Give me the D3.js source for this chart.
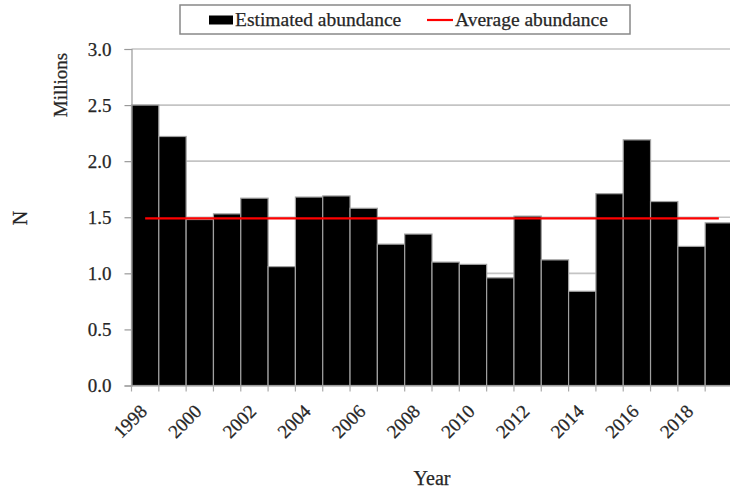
<!DOCTYPE html>
<html>
<head>
<meta charset="utf-8">
<script src="https://cdn.jsdelivr.net/npm/d3@7"></script>
<style>
  html, body { margin: 0; padding: 0; background: #fff; }
  svg { display: block; }
  svg text { font-family: 'Liberation Serif', Tinos, 'Times New Roman', 'DejaVu Serif', serif !important; fill: #262626; stroke: #262626; stroke-width: 0.25px; }
</style>
</head>
<body>
<svg id="chart" width="730" height="492"></svg>
<script>
const years = [1998,1999,2000,2001,2002,2003,2004,2005,2006,2007,2008,2009,2010,2011,2012,2013,2014,2015,2016,2017,2018,2019];
const abundance = [2.50,2.22,1.48,1.53,1.67,1.06,1.68,1.69,1.58,1.26,1.35,1.10,1.08,0.96,1.51,1.12,0.84,1.71,2.19,1.64,1.24,1.45];
const averageAbundance = 1.49;
const yTicks = [0,0.5,1.0,1.5,2.0,2.5,3.0];
const xLabelYears = [1998,2000,2002,2004,2006,2008,2010,2012,2014,2016,2018];
const legendLabels = ["Estimated abundance", "Average abundance"];

(function () {
const svg = d3.select("#chart");
const pLeft = 131.5, pRight = 732.5, pTop = 49, pBottom = 385.5;
const FONT = "'Liberation Serif', Tinos, 'Times New Roman', 'DejaVu Serif', serif";

const x = d3.scaleBand().domain(years).range([pLeft, pRight]).padding(0);
const y = d3.scaleLinear().domain([0, 3]).range([pBottom, pTop]);

// gridlines
svg.append("g").selectAll("line").data(yTicks.filter(d => d > 0)).join("line")
  .attr("x1", pLeft).attr("x2", 730)
  .attr("y1", d => y(d)).attr("y2", d => y(d))
  .attr("stroke", "#c4c4c4").attr("stroke-width", 1.6);

// bars
svg.append("g").selectAll("rect").data(years).join("rect")
  .attr("x", d => x(d))
  .attr("width", x.bandwidth())
  .attr("y", (d, i) => y(abundance[i]))
  .attr("height", (d, i) => y(0) - y(abundance[i]))
  .attr("fill", "#000")
  .attr("stroke", "#a0a0a0")
  .attr("stroke-width", 1.2);

// average line
svg.append("line")
  .attr("x1", x(years[0]) + x.bandwidth() / 2)
  .attr("x2", x(years[years.length - 1]) + x.bandwidth() / 2)
  .attr("y1", y(averageAbundance)).attr("y2", y(averageAbundance))
  .attr("stroke", "#ff0000").attr("stroke-width", 2.2);

// y axis
const yAxis = svg.append("g").attr("transform", `translate(${pLeft},0)`)
  .call(d3.axisLeft(y).tickValues(yTicks).tickFormat(d3.format(".1f")).tickSize(7).tickPadding(13));
yAxis.attr("font-family", FONT).attr("font-size", 19);
yAxis.select(".domain").attr("stroke", "#999").attr("stroke-width", 1.2);
yAxis.selectAll(".tick line").attr("stroke", "#999").attr("stroke-width", 1.2);
yAxis.selectAll(".tick text").attr("fill", "#262626");

// x axis
const xAxis = svg.append("g").attr("transform", `translate(0,${pBottom})`)
  .call(d3.axisBottom(x).tickValues([]).tickSizeOuter(0));
xAxis.select(".domain").attr("stroke", "#999").attr("stroke-width", 1.2);
svg.append("g").selectAll("line").data(years).join("line")
  .attr("x1", d => x(d)).attr("x2", d => x(d))
  .attr("y1", pBottom).attr("y2", pBottom + 6)
  .attr("stroke", "#aaa").attr("stroke-width", 1.2);

svg.append("g").attr("font-family", FONT).selectAll("text").data(xLabelYears).join("text")
  .attr("transform", d => `translate(${x(d) + x.bandwidth() / 2 + 3},${pBottom + 27}) rotate(-45)`)
  .attr("text-anchor", "end")
  .attr("font-size", 19)
  .text(d => d);

// axis titles
const titles = svg.append("g").attr("font-family", FONT);
titles.append("text").attr("x", 432).attr("y", 485).attr("text-anchor", "middle")
  .attr("font-size", 20).text("Year");
titles.append("text").attr("transform", "translate(27,218) rotate(-90)").attr("text-anchor", "middle")
  .attr("font-size", 20).text("N");
titles.append("text").attr("transform", "translate(67,85) rotate(-90)").attr("text-anchor", "middle")
  .attr("font-size", 19).text("Millions");

// legend
const lg = svg.append("g").attr("font-family", FONT);
lg.append("rect").attr("x", 180).attr("y", 5).attr("width", 450).attr("height", 29)
  .attr("fill", "#fff").attr("stroke", "#888").attr("stroke-width", 1.5);
lg.append("rect").attr("x", 209).attr("y", 15.5).attr("width", 24).attr("height", 9).attr("fill", "#000");
lg.append("text").attr("x", 235).attr("y", 26).attr("font-size", 19.5).text(legendLabels[0]);
lg.append("line").attr("x1", 427).attr("x2", 453).attr("y1", 20).attr("y2", 20)
  .attr("stroke", "#ff0000").attr("stroke-width", 2.2);
lg.append("text").attr("x", 455).attr("y", 26).attr("font-size", 19.5).text(legendLabels[1]);
})();
</script>
</body>
</html>
